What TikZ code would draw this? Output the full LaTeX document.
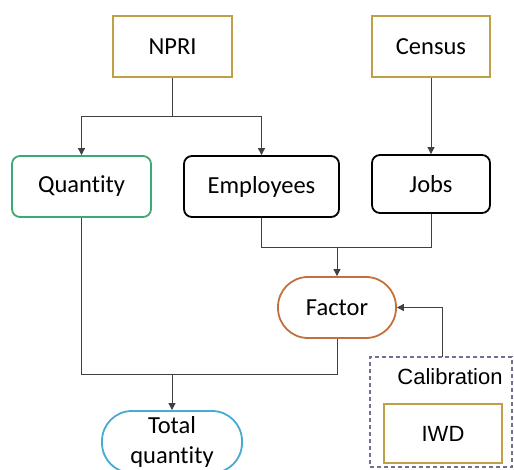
\documentclass[tikz,border=0pt]{standalone}
\usepackage{fontspec}
\setmainfont{Carlito}[RawFeature=-liga]
\newfontfamily\arialf{Liberation Sans}
\usetikzlibrary{arrows.meta,calc}
\definecolor{goldc}{RGB}{191,160,70}
\definecolor{greenc}{RGB}{60,170,110}
\definecolor{orangec}{RGB}{196,112,62}
\definecolor{cyanc}{RGB}{70,170,210}
\definecolor{purplec}{RGB}{120,108,150}
\definecolor{linec}{RGB}{64,64,64}
\begin{document}
\begin{tikzpicture}[x=1pt,y=-1pt,
  box/.style={draw=#1,line width=1.8pt,inner sep=0pt,font=\fontsize{24.5}{29}\selectfont},
  src/.style={box=goldc},
  rbox/.style={box=#1,rounded corners=8pt},
  pill/.style={box=#1,rounded corners=30pt},
  conn/.style={draw=linec,line width=0.9pt},
  arr/.style={conn,-{Triangle[length=7pt,width=7pt]}}]
\useasboundingbox (0,0) rectangle (514,470);
\clip (0,0) rectangle (514,470);
\node[src,minimum width=119pt,minimum height=61pt] (npri) at (172.5,46.5) {NPRI};
\node[src,minimum width=118pt,minimum height=61pt] (census) at (431,46.5) {Census};
\node[rbox=greenc,minimum width=139pt,minimum height=61pt] (qty) at (81.5,186.5) {Quantity};
\node[rbox=black,minimum width=155pt,minimum height=61pt] (emp) at (261.5,186.5) {Employees};
\node[rbox=black,minimum width=118pt,minimum height=58pt] (jobs) at (431,184) {Jobs};
\node[pill=orangec,minimum width=118pt,minimum height=61pt] (factor) at (337,307.5) {Factor};
\node[pill=cyanc,minimum width=140pt,minimum height=62pt,align=center,font=\fontsize{24.5}{30}\selectfont] (total) at (172,442) {Total\\quantity};
\node[draw=purplec,dashed,line width=1.2pt,dash pattern=on 4pt off 3pt,minimum width=142pt,minimum height=110pt,inner sep=0pt] (calib) at (441,412) {};
\node[font=\arialf\fontsize{22}{26}\selectfont,inner sep=0pt] (calibt) at (450,377) {Calibration};
\node[src,minimum width=118pt,minimum height=59pt,font=\arialf\fontsize{22}{26}\selectfont] (iwd) at (443,433.5) {IWD};
% connectors
\coordinate (n1) at (172.5,116);
\draw[conn] (npri.south) -- (n1);
\draw[arr] (n1) -| (qty.north);
\draw[arr] (n1) -| (emp.north);
\draw[arr] (census.south) -- (jobs.north);
\coordinate (j1) at (337,247);
\draw[conn] (emp.south) |- (j1);
\draw[conn] (jobs.south) |- (j1);
\draw[arr] (j1) -- (factor.north);
\coordinate (t1) at (172,374);
\draw[conn] (qty.south) |- (t1);
\draw[conn] (factor.south) |- (t1);
\draw[arr] (t1) -- (total.north);
\coordinate (c1) at (442,357);
\draw[arr] (c1) |- (factor.east);
\end{tikzpicture}
\end{document}
